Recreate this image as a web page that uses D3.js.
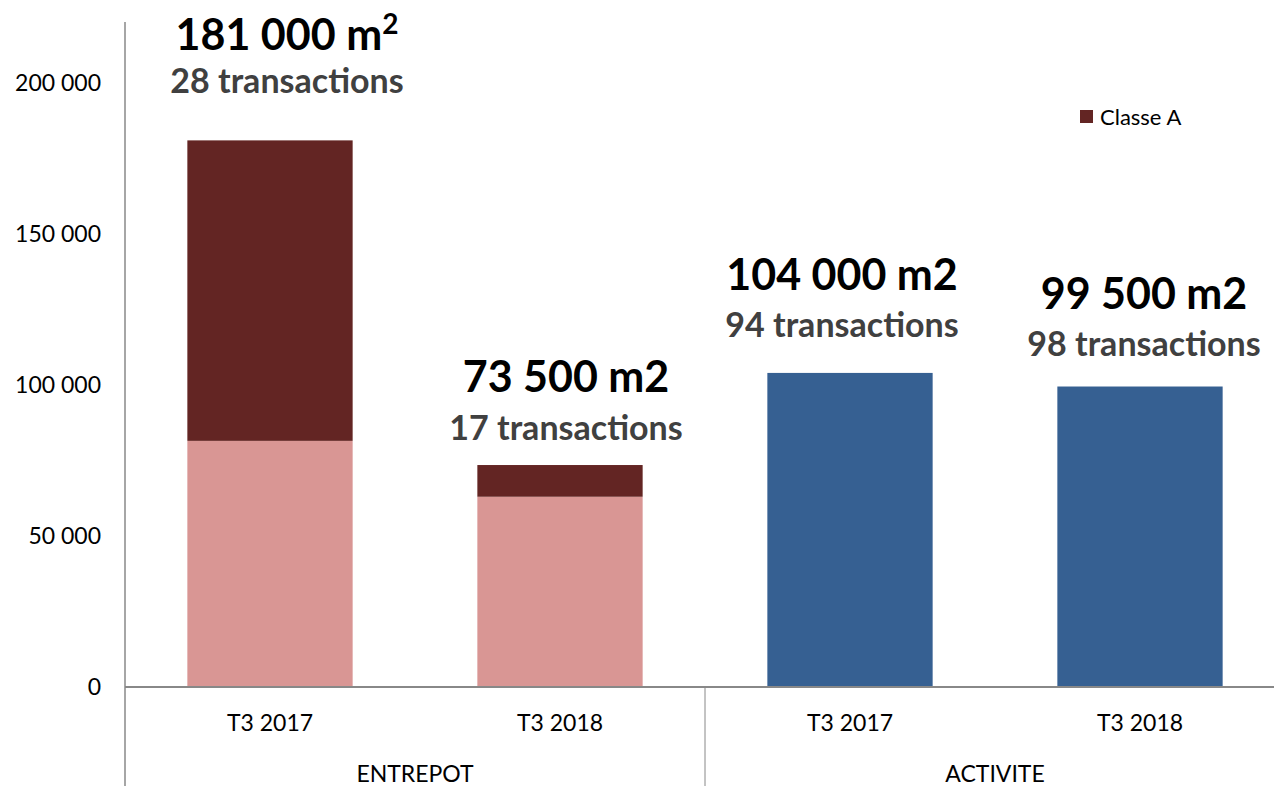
<!DOCTYPE html>
<html><head><meta charset="utf-8">
<script src="https://cdn.jsdelivr.net/npm/d3@7"></script>
<style>body{margin:0;background:#fff}svg{display:block}text{font-family:Lato,"Open Sans",sans-serif}</style>
</head><body>
<svg id="c" width="1274" height="786"></svg>
<script>
const groups = ["ENTREPOT","ENTREPOT","ACTIVITE","ACTIVITE"];
const periods = ["T3 2017","T3 2018","T3 2017","T3 2018"];
const baseValues = [81500, 63000, 104000, 99500];
const classeAValues = [99500, 10500, 0, 0];
const totalLabels = ["181 000 m","73 500 m2","104 000 m2","99 500 m2"];
const totalSup = ["2","","",""];
const transLabels = ["28 transactions","17 transactions","94 transactions","98 transactions"];
const yTicks = [0,50000,100000,150000,200000];
const groupNames = ["ENTREPOT","ACTIVITE"];
const legendLabel = "Classe A";

// layout
const baseColors = ["#D99694","#D99694","#366092","#366092"];
const darkColor = "#632523";
const labelDx = [17, 6, -8, 4];
const labelLift1 = [90, 73, 83, 78];
const labelLift2 = [47, 25, 36, 31];

const svg = d3.select("#c");
const x0 = 125, x1 = 1285, yBase = 687;
const x = d3.scaleBand().domain(d3.range(4)).range([x0, x1]).paddingInner(0.43).paddingOuter(0.215);
const y = d3.scaleLinear().domain([0, 200000]).range([yBase, 83]);
const fmt = v => d3.format(",")(v).replace(/,/g, " ");

// y tick labels
svg.append("g").selectAll("text").data(yTicks).join("text")
  .attr("x", 101).attr("y", d => y(d)).attr("dy", "0.35em")
  .attr("text-anchor", "end").attr("font-size", 23).attr("fill", "#000")
  .text(fmt);

// bars
const totals = baseValues.map((v,i) => v + classeAValues[i]);
svg.append("g").selectAll("rect").data(baseValues).join("rect")
  .attr("x", (d,i) => x(i)).attr("width", x.bandwidth())
  .attr("y", d => y(d)).attr("height", d => yBase - y(d))
  .attr("fill", (d,i) => baseColors[i]);
svg.append("g").selectAll("rect").data(classeAValues.map((v,i)=>({v,i})).filter(d=>d.v>0)).join("rect")
  .attr("x", d => x(d.i)).attr("width", x.bandwidth())
  .attr("y", d => y(baseValues[d.i] + d.v)).attr("height", d => y(baseValues[d.i]) - y(baseValues[d.i] + d.v))
  .attr("fill", darkColor);

// axes lines
const axisColor = "#888";
svg.append("line").attr("x1", x0).attr("x2", x0).attr("y1", 22).attr("y2", 786).attr("stroke", axisColor).attr("stroke-width", 1.5);
svg.append("line").attr("x1", x0).attr("x2", 1274).attr("y1", yBase).attr("y2", yBase).attr("stroke", axisColor).attr("stroke-width", 2);
const divX = (x(1) + x.bandwidth() + x(2)) / 2;
svg.append("line").attr("x1", divX).attr("x2", divX).attr("y1", yBase).attr("y2", 786).attr("stroke", axisColor).attr("stroke-width", 1);

// category labels
svg.append("g").selectAll("text").data(periods).join("text")
  .attr("x", (d,i) => x(i) + x.bandwidth()/2).attr("y", 731)
  .attr("text-anchor", "middle").attr("font-size", 23).attr("fill", "#000").text(d => d);
svg.append("g").selectAll("text").data(groupNames).join("text")
  .attr("x", (d,i) => (x(2*i) + x(2*i+1) + x.bandwidth())/2).attr("y", 782)
  .attr("text-anchor", "middle").attr("font-size", 23).attr("fill", "#000").text(d => d);

// annotations
totalLabels.forEach((t,i) => {
  const cx = x(i) + x.bandwidth()/2 + labelDx[i];
  const top = y(totals[i]);
  const tx = svg.append("text").attr("x", cx).attr("y", top - labelLift1[i])
    .attr("text-anchor", "middle").attr("font-size", 43).attr("font-weight", 700).attr("fill", "#000");
  tx.append("tspan").text(t);
  if (totalSup[i]) tx.append("tspan").attr("dy", -16).attr("font-size", 28).text(totalSup[i]);
  svg.append("text").attr("x", cx).attr("y", top - labelLift2[i])
    .attr("text-anchor", "middle").attr("font-size", 34).attr("font-weight", 700).attr("fill", "#404040").text(transLabels[i]);
});

// legend
svg.append("rect").attr("x", 1080).attr("y", 110).attr("width", 13).attr("height", 13).attr("fill", darkColor);
svg.append("text").attr("x", 1100).attr("y", 117).attr("dy", "0.35em").attr("font-size", 22).attr("fill", "#000").text(legendLabel);
</script>
</body></html>
